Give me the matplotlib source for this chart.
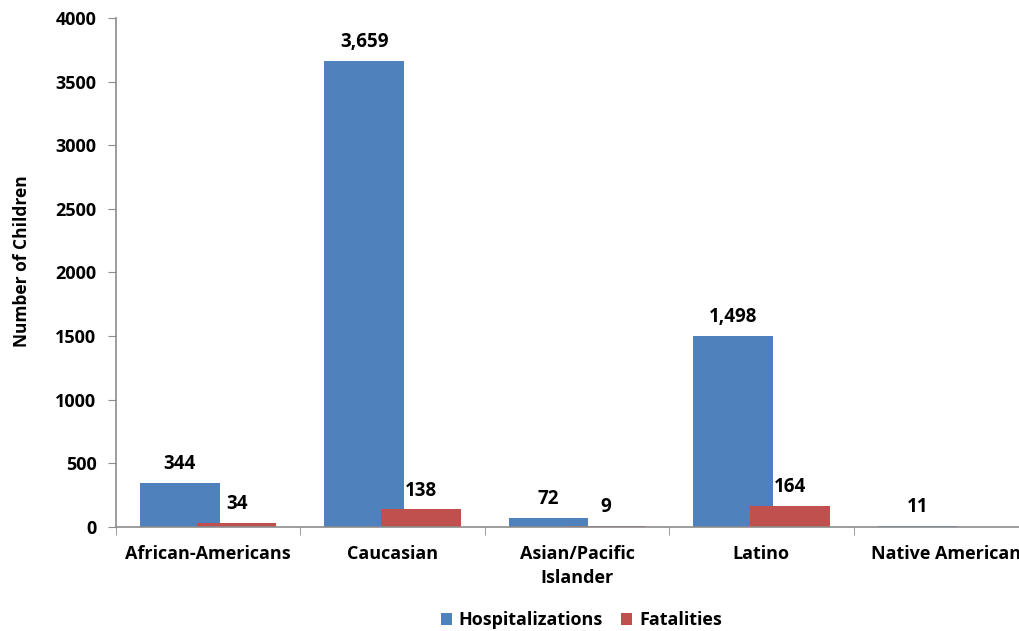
import numpy as np
import matplotlib
matplotlib.use('Agg')
import matplotlib.pyplot as plt

plt.rcParams['font.family'] = ['Open Sans', 'DejaVu Sans']
plt.rcParams['font.weight'] = 'bold'

#dados
grupos = ['African-Americans', 'Caucasian', 'Asian/Pacific\nIslander', 'Latino', 'Native American']
hosp = [344, 3659, 72, 1498, 11]
fatal = [34, 138, 9, 164, 0]

azul = '#4F81BD'
verm = '#C0504D'
cinza = '#8C8C8C'

fig = plt.figure(figsize=(10.2, 6.31), dpi=100)
ax = fig.add_axes([0.1137, 0.1648, 0.9039, 0.8067])

x = np.arange(len(grupos))
larg = 0.432
desl = 0.154
b1 = ax.bar(x - desl, hosp, larg, color=azul, label='Hospitalizations', zorder=2)
b2 = ax.bar(x + desl, fatal, larg, color=verm, label='Fatalities', zorder=3)

#rotulos dos dados
for xi, v in zip(x - desl, hosp):
    ax.text(xi, v + 70, format(v, ','), ha='center', va='bottom',
            fontsize=13.5, fontweight='bold')
for xi, v in zip(x + desl, fatal):
    if v > 0:
        ax.text(xi, v + 70, format(v, ','), ha='center', va='bottom',
                fontsize=13.5, fontweight='bold')

ax.set_xlim(-0.5, len(grupos) - 0.5)
ax.set_ylim(0, 4000)
ax.set_yticks(np.arange(0, 4001, 500))
ax.set_xticks(x)
ax.set_xticklabels(grupos, fontsize=13, fontweight='bold', linespacing=1.45)
ax.set_xticks(np.arange(-0.5, len(grupos), 1), minor=True)
ax.tick_params(axis='x', which='major', length=0, pad=13)
ax.tick_params(axis='x', which='minor', length=6, color=cinza, direction='out')
ax.tick_params(axis='y', length=6, color=cinza, labelsize=13, pad=8)
for t in ax.get_yticklabels():
    t.set_fontweight('bold')

for s in ['top', 'right']:
    ax.spines[s].set_visible(False)
for s in ['left', 'bottom']:
    ax.spines[s].set_color(cinza)
    ax.spines[s].set_linewidth(1.2)
    ax.spines[s].set_zorder(4)

ax.set_ylabel('Number of Children', fontsize=12.5, fontweight='bold')
ax.yaxis.set_label_coords(-0.092, 0.523)

leg = fig.legend(handles=[b1, b2], loc='center', bbox_to_anchor=(0.570, 0.017),
                 ncol=2, frameon=False, fontsize=13, handlelength=0.6,
                 handleheight=0.6, handletextpad=0.4, columnspacing=1.0)

plt.savefig('out.png', dpi=100)
